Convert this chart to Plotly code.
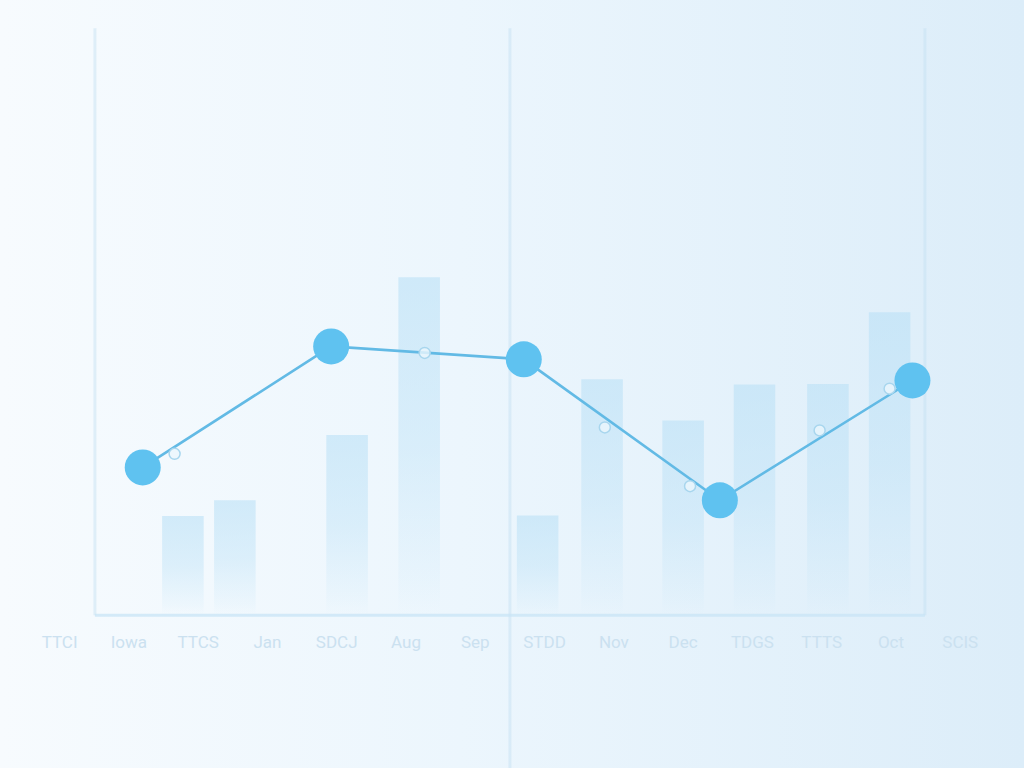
import plotly.graph_objects as go

# Category labels along the x axis (faded in the reference)
labels = ['TTCI', 'Iowa', 'TTCS', 'Jan', 'SDCJ', 'Aug', 'Sep', 'STDD', 'Nov', 'Dec', 'TDGS', 'TTTS', 'Oct', 'SCIS']

# Bar series
bar_x = [1.78, 2.53, 4.15, 5.19, 6.9, 7.83, 9.0, 10.03, 11.09, 11.98]
bar_y = [16.9, 19.6, 30.7, 57.6, 17.0, 40.2, 33.2, 39.3, 39.4, 51.6]

# Line series (main points)
line_x = [1.2, 3.92, 6.7, 9.53, 12.31]
line_y = [25.2, 45.8, 43.6, 19.6, 40.0]

# Small hollow checkpoints sitting on the line
check_x = [1.66, 5.27, 7.87, 9.1, 10.97, 11.98]
check_y = [27.5, 44.7, 32.0, 22.0, 31.5, 38.6]

x_range = [-0.86, 13.92]
y_range = [-26.0, 104.8]
frame_left, frame_mid, frame_right = 0.51, 6.5, 12.49
half_w = 0.3

fig = go.Figure()

# Soft background wash on the base axes, whiter on the left
fig.add_trace(go.Scatter(
    x=[x_range[0], x_range[1], x_range[1], x_range[0], x_range[0]],
    y=[y_range[0], y_range[0], y_range[1], y_range[1], y_range[0]],
    mode='lines', line=dict(width=0), fill='toself',
    fillgradient=dict(type='horizontal',
                      colorscale=[[0, '#f7fbfe'], [0.45, '#ecf6fd'], [1, '#dcedf9']]),
    hoverinfo='skip', showlegend=False
))

# Faint frame lines
for xv, y0 in [(frame_left, 0), (frame_mid, -26), (frame_right, 0)]:
    fig.add_trace(go.Scatter(
        x=[xv, xv], y=[y0, 100], mode='lines', xaxis='x2', yaxis='y2',
        line=dict(color='rgba(195,225,242,0.45)', width=3),
        hoverinfo='skip', showlegend=False
    ))

# Bars that fade out towards the baseline
for bx, by in zip(bar_x, bar_y):
    fig.add_trace(go.Scatter(
        x=[bx - half_w, bx + half_w, bx + half_w, bx - half_w, bx - half_w],
        y=[0, 0, by, by, 0], xaxis='x2', yaxis='y2',
        mode='lines', line=dict(width=0), fill='toself',
        fillgradient=dict(type='vertical',
                          colorscale=[[0, 'rgba(185,224,246,0)'], [0.1, 'rgba(185,224,246,0.1)'],
                                      [0.5, 'rgba(185,224,246,0.4)'], [1, 'rgba(185,224,246,0.58)']]),
        hoverinfo='skip', showlegend=False
    ))

# Baseline of the chart frame
fig.add_trace(go.Scatter(
    x=[frame_left, frame_right], y=[0, 0], mode='lines', xaxis='x2', yaxis='y2',
    line=dict(color='rgba(200,228,245,0.75)', width=3),
    hoverinfo='skip', showlegend=False
))

fig.add_trace(go.Scatter(
    x=line_x, y=line_y, mode='lines+markers', xaxis='x2', yaxis='y2',
    line=dict(color='#62bae5', width=2.6),
    marker=dict(size=36, color='#5fc2f0', line=dict(width=0)),
    showlegend=False
))

fig.add_trace(go.Scatter(
    x=check_x, y=check_y, mode='markers', xaxis='x2', yaxis='y2',
    marker=dict(size=11, color='rgba(235,246,253,0.8)',
                line=dict(color='#a8d6ee', width=1.5)),
    showlegend=False
))

fig.update_layout(
    width=1024, height=768,
    margin=dict(l=0, r=0, t=0, b=0),
    paper_bgcolor='#eaf5fc', plot_bgcolor='rgba(0,0,0,0)',
    font=dict(family='Roboto', size=17, color='#cbe1f0'),
    xaxis=dict(range=x_range, visible=False),
    yaxis=dict(range=y_range, visible=False),
    xaxis2=dict(
        range=x_range, overlaying='x', anchor='free', position=(768 - 615) / 768,
        tickmode='array', tickvals=list(range(len(labels))), ticktext=labels,
        showgrid=False, zeroline=False, showline=False,
        ticks='outside', ticklen=12, tickcolor='rgba(0,0,0,0)'
    ),
    yaxis2=dict(
        range=y_range, overlaying='y', showticklabels=False, zeroline=False,
        showgrid=True, gridcolor='rgba(222,237,247,0.6)', gridwidth=1,
        tickvals=[10, 20, 30, 40, 50, 60, 70, 80, 90, 100]
    )
)

fig.write_html("out.html", config={'displayModeBar': False},
               post_script="document.body.style.margin='0';")
